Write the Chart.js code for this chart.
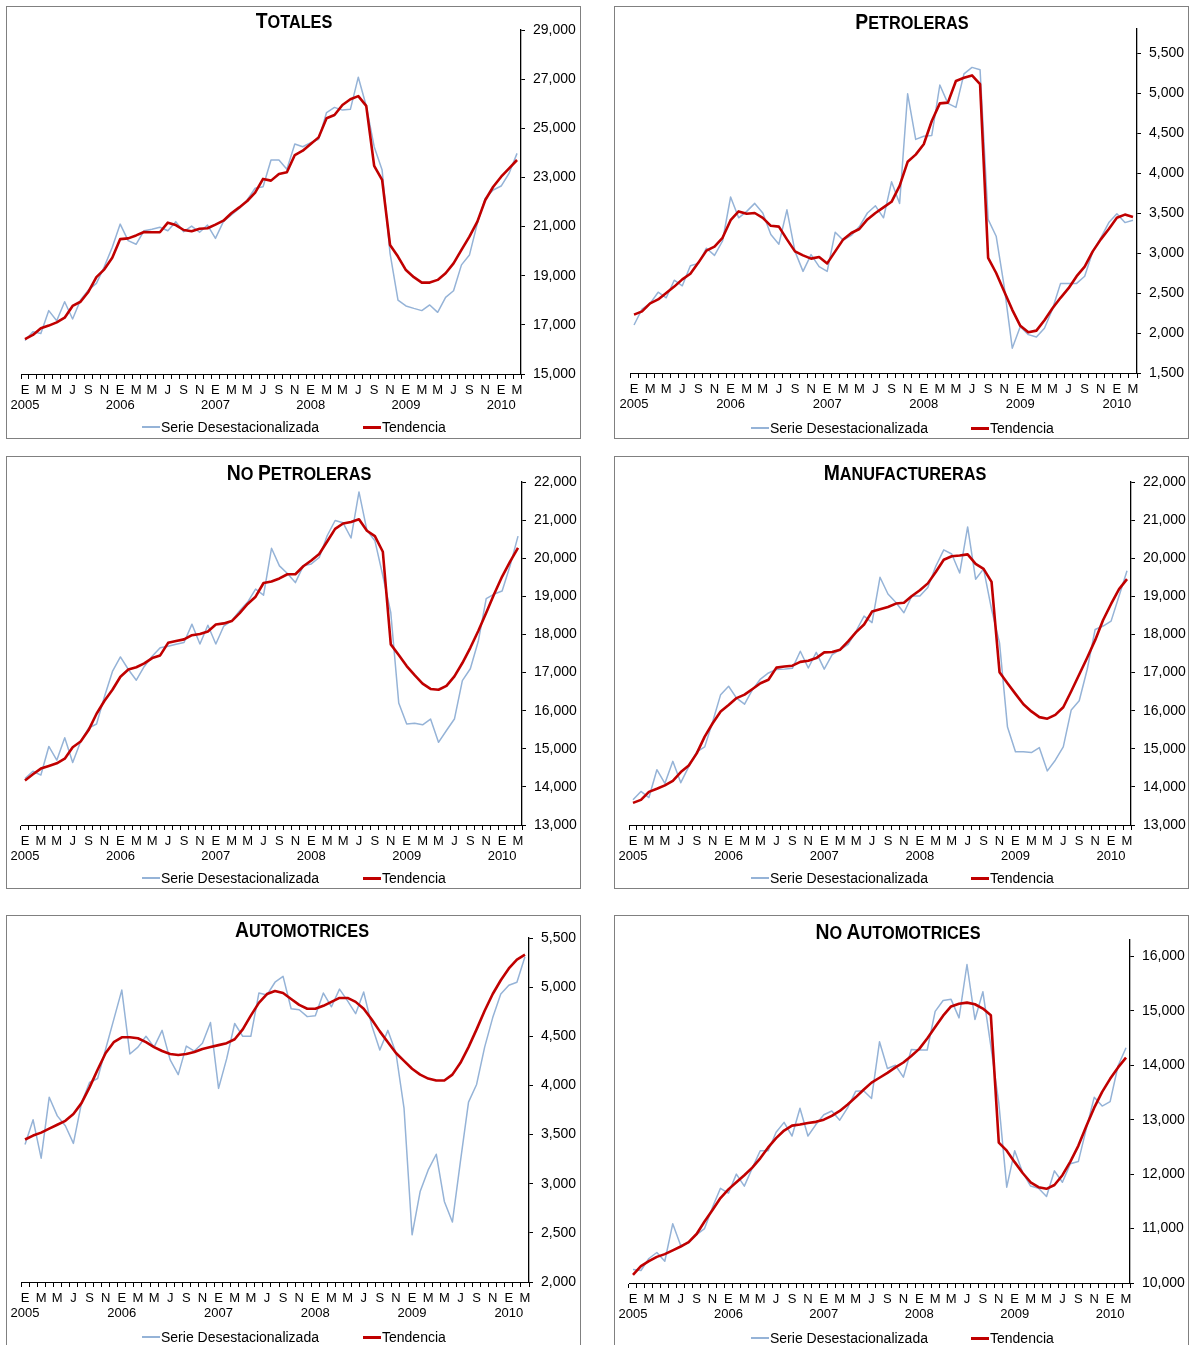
<!DOCTYPE html>
<html lang="es">
<head>
<meta charset="UTF-8">
<title>Exportaciones: serie desestacionalizada y tendencia</title>
<script src="https://cdn.jsdelivr.net/npm/chart.js@4.4.0/dist/chart.umd.min.js"></script>
<style>
  body { margin:0; background:#fff; width:1189px; height:1345px; position:relative; overflow:hidden; font-family:"Liberation Sans", Arial, sans-serif; color:#000; }
  .frame { position:absolute; border:1px solid #808080; box-sizing:border-box; }
  canvas { position:absolute; }
  .titulo { position:absolute; font-weight:bold; font-size:18.5px; line-height:22px; white-space:nowrap; transform-origin:50% 50%; }
  .titulo .cap { font-size:22px; }
  .ley { position:absolute; font-size:14px; line-height:16px; white-space:nowrap; }
  .sw { position:absolute; width:18px; }
</style>
</head>
<body>

<script>
// categorias: enero 2005 - marzo 2010 (63 meses)
const mesesLetra = ['E','F','M','A','M','J','J','A','S','O','N','D'];
const anios = [2005, 2006, 2007, 2008, 2009, 2010];
const numMeses = 63;

// ----- Totales -----
const totalesSerie = [16360,16720,16650,17580,17170,17940,17240,18010,18420,18690,19370,20160,
  21100,20430,20280,20830,20890,20970,20830,21200,20790,21020,20770,21060,
  20520,21200,21470,21740,22080,22560,22620,23710,23710,23330,24360,24250,
  24410,24550,25640,25850,25740,25770,27080,25910,24250,23300,19910,18010,
  17770,17670,17580,17810,17510,18120,18390,19440,19840,21130,22150,22490,
  22650,23170,23980];
const totalesTendencia = [16420,16590,16860,16970,17100,17290,17770,17940,18350,18940,19260,19730,
  20490,20520,20640,20780,20770,20770,21160,21060,20860,20810,20910,20930,
  21080,21240,21540,21780,22040,22380,22940,22870,23140,23210,23910,24090,
  24360,24630,25410,25540,25950,26180,26310,25910,23470,22900,20250,19780,
  19230,18940,18720,18720,18830,19100,19500,20050,20590,21200,22080,22620,
  23030,23370,23710];

// ----- Petroleras -----
const petrolerasSerie = [2100,2300,2370,2510,2440,2660,2590,2840,2870,3060,2970,3150,
  3700,3440,3520,3620,3500,3230,3110,3540,3020,2770,2980,2830,
  2770,3260,3160,3220,3330,3500,3590,3440,3890,3620,4990,4420,
  4460,4470,5100,4870,4820,5240,5320,5290,3420,3210,2580,1810,
  2080,1980,1950,2060,2300,2620,2620,2620,2710,3020,3190,3380,
  3490,3380,3410];
const petrolerasTendencia = [2230,2270,2370,2420,2500,2580,2670,2740,2880,3030,3080,3190,
  3410,3520,3490,3500,3440,3340,3330,3170,3020,2970,2930,2950,
  2870,3020,3170,3250,3300,3420,3500,3570,3640,3840,4140,4230,
  4360,4650,4870,4880,5150,5190,5220,5110,2940,2750,2520,2290,
  2090,2010,2030,2160,2310,2440,2560,2710,2830,3020,3170,3300,
  3440,3480,3450];

// ----- No petroleras -----
const noPetrolerasSerie = [14220,14410,14310,15060,14700,15290,14640,15190,15540,15650,16370,17030,
  17410,17080,16800,17160,17430,17650,17690,17740,17790,18270,17750,18240,
  17750,18220,18360,18620,18850,19190,19030,20260,19800,19600,19360,19800,
  19850,20020,20590,20990,20930,20530,21740,20730,20460,19540,18570,16200,
  15650,15670,15630,15780,15170,15480,15780,16790,17100,17820,18940,19060,
  19140,19800,20580];
const noPetrolerasTendencia = [14170,14330,14480,14550,14620,14740,15040,15190,15490,15920,16260,16550,
  16890,17080,17140,17240,17380,17450,17780,17830,17870,17980,18010,18080,
  18260,18290,18350,18560,18800,18990,19350,19390,19470,19580,19580,19790,
  19940,20110,20440,20770,20910,20950,21020,20720,20580,20170,17740,17460,
  17170,16930,16710,16570,16550,16650,16900,17250,17650,18090,18570,19060,
  19520,19910,20270];

// ----- Manufactureras -----
const manufacturerasSerie = [13660,13880,13720,14450,14090,14670,14110,14530,14920,15050,15710,16420,
  16640,16330,16170,16550,16830,16990,17080,17090,17110,17560,17120,17530,
  17090,17470,17600,17740,18090,18480,18310,19500,19060,18840,18570,19010,
  19010,19230,19790,20220,20110,19610,20820,19450,19720,18660,17780,15570,
  14920,14920,14900,15030,14420,14700,15050,16020,16260,17080,18130,18220,
  18350,19010,19670];
const manufacturerasTendencia = [13580,13660,13870,13950,14040,14160,14390,14560,14880,15320,15670,15980,
  16150,16330,16420,16570,16720,16810,17130,17160,17180,17280,17310,17380,
  17530,17540,17600,17820,18060,18260,18600,18660,18720,18810,18830,19010,
  19160,19340,19640,19960,20050,20070,20100,19850,19720,19380,17010,16720,
  16440,16170,15980,15830,15790,15890,16090,16510,16950,17390,17850,18380,
  18800,19190,19450];

// ----- Automotrices -----
const automotricesSerie = [3400,3650,3260,3880,3690,3590,3410,3820,4030,4070,4370,4670,
  4970,4320,4390,4500,4390,4560,4260,4110,4400,4350,4430,4640,
  3970,4270,4630,4500,4500,4940,4920,5050,5110,4780,4770,4700,
  4710,4940,4800,4980,4860,4730,4950,4610,4360,4560,4330,3770,
  2480,2920,3140,3300,2820,2610,3230,3830,4010,4390,4690,4930,
  5020,5050,5310];
const automotricesTendencia = [3450,3490,3520,3560,3600,3640,3710,3820,3980,4160,4330,4440,
  4490,4490,4480,4440,4390,4350,4320,4310,4320,4340,4370,4390,
  4410,4430,4470,4570,4710,4840,4930,4960,4940,4880,4820,4780,
  4780,4810,4850,4890,4890,4850,4780,4670,4550,4440,4330,4250,
  4170,4110,4070,4050,4050,4110,4230,4390,4570,4760,4930,5070,
  5190,5280,5330];

// ----- No automotrices -----
const noAutomotricesSerie = [10250,10230,10450,10560,10400,11090,10690,10740,10890,11000,11390,11740,
  11650,12000,11780,12110,12430,12430,12770,12950,12700,13210,12700,12910,
  13090,13160,12990,13220,13520,13530,13390,14430,13940,14000,13780,14290,
  14280,14280,14990,15190,15210,14870,15850,14840,15350,14350,13310,11760,
  12430,12030,11780,11740,11590,12060,11850,12190,12230,12830,13410,13250,
  13330,13990,14320];
const noAutomotricesTendencia = [10150,10310,10400,10480,10530,10600,10670,10750,10900,11130,11340,11560,
  11720,11850,11980,12120,12290,12490,12660,12800,12890,12910,12940,12960,
  13000,13070,13160,13280,13410,13550,13680,13770,13860,13960,14050,14170,
  14300,14490,14700,14910,15080,15130,15150,15120,15040,14920,12580,12430,
  12220,12020,11850,11760,11730,11800,11980,12230,12520,12880,13220,13510,
  13750,13960,14140];

const etiquetasLeyenda = ['Serie Desestacionalizada', 'Tendencia'];

const periodos = [];
for (let i = 0; i < numMeses; i++) {
  periodos.push(anios[Math.floor(i / 12)] + '-' + String(i % 12 + 1).padStart(2, '0'));
}

const colorSerie = '#95b3d7';
const colorTendencia = '#c00000';
const anchoEjeY = 66, altoEjeX = 40;

// box = marco [x0,y0,x1,y1], plot = area de trazado [izq,arriba,der,abajo], ley = [x azul, y, x rojo]
const paneles = [
  { titulo:'Totales', serie:totalesSerie, tendencia:totalesTendencia, yMin:15000, yMax:29000, yPaso:2000,
    box:[6,6,581,439], plot:[21,30,521,374], tx:294, ty:29, esc:0.88, ley:[142,427,363] },
  { titulo:'Petroleras', serie:petrolerasSerie, tendencia:petrolerasTendencia, yMin:1500, yMax:5800, yPaso:500,
    box:[614,6,1189,439], plot:[630,29,1137,373], tx:912, ty:30, esc:0.88, ley:[751,428,971] },
  { titulo:'No Petroleras', serie:noPetrolerasSerie, tendencia:noPetrolerasTendencia, yMin:13000, yMax:22000, yPaso:1000,
    box:[6,456,581,889], plot:[21,482,522,825], tx:299, ty:481, esc:0.88, ley:[142,878,363] },
  { titulo:'Manufactureras', serie:manufacturerasSerie, tendencia:manufacturerasTendencia, yMin:13000, yMax:22000, yPaso:1000,
    box:[614,456,1189,889], plot:[629,482,1131,825], tx:905, ty:481, esc:0.88, ley:[751,878,971] },
  { titulo:'Automotrices', serie:automotricesSerie, tendencia:automotricesTendencia, yMin:2000, yMax:5500, yPaso:500,
    box:[6,915,581,1346], plot:[21,938,529,1282], tx:302, ty:938, esc:0.88, ley:[142,1337,363] },
  { titulo:'No Automotrices', serie:noAutomotricesSerie, tendencia:noAutomotricesTendencia, yMin:10000, yMax:16300, yPaso:1000,
    box:[614,915,1189,1346], plot:[629,940,1130,1283], tx:898, ty:940, esc:0.88, ley:[751,1338,971] }
];

function etiquetaMes(value, index) {
  if (index % 2 === 1) return '';
  const letra = mesesLetra[index % 12];
  if (index % 12 === 0) return [letra, String(anios[index / 12])];
  return letra;
}

function crearPanel(p, n) {
  const [x0, y0, x1, y1] = p.box;
  const [l, t, r, b] = p.plot;

  const marco = document.createElement('div');
  marco.className = 'frame';
  Object.assign(marco.style, { left: x0 + 'px', top: y0 + 'px', width: (x1 - x0) + 'px', height: (y1 - y0) + 'px' });
  document.body.appendChild(marco);

  // el lienzo llega un poco mas alla del marco para que quepan las etiquetas del eje
  const cv = document.createElement('canvas');
  cv.id = 'grafico' + n;
  cv.width = r + anchoEjeY + 2 - x0; cv.height = y1 - y0;
  Object.assign(cv.style, { left: x0 + 'px', top: y0 + 'px' });
  document.body.appendChild(cv);

  // titulo en versalitas
  const tit = document.createElement('div');
  tit.className = 'titulo';
  tit.innerHTML = p.titulo.split(' ').map(w =>
    '<span class="cap">' + w[0].toUpperCase() + '</span>' + w.slice(1).toUpperCase()).join(' ');
  tit.style.top = (p.ty - 18.6) + 'px';
  tit.style.left = p.tx + 'px';
  tit.style.transform = 'translateX(-50%) scaleX(' + p.esc + ')';
  document.body.appendChild(tit);

  // leyenda
  const [lx, ly, rx] = p.ley;
  [[lx, colorSerie, 2, etiquetasLeyenda[0]], [rx, colorTendencia, 3, etiquetasLeyenda[1]]].forEach(([x, col, g, txt]) => {
    const sw = document.createElement('div');
    sw.className = 'sw';
    Object.assign(sw.style, { left: x + 'px', top: (ly - g / 2) + 'px', height: g + 'px', background: col });
    document.body.appendChild(sw);
    const tx = document.createElement('div');
    tx.className = 'ley';
    tx.textContent = txt;
    Object.assign(tx.style, { left: (x + 19) + 'px', top: (ly - 8) + 'px' });
    document.body.appendChild(tx);
  });

  new Chart(cv, {
    type: 'line',
    data: {
      labels: periodos,
      datasets: [
        { label: etiquetasLeyenda[0], data: p.serie, borderColor: colorSerie, borderWidth: 1.5, order: 2 },
        { label: etiquetasLeyenda[1], data: p.tendencia, borderColor: colorTendencia, borderWidth: 2.6, order: 1 }
      ]
    },
    options: {
      responsive: false,
      animation: false,
      layout: { padding: { left: l - x0, top: t - y0, right: 2, bottom: (y1 - b) - altoEjeX } },
      elements: { point: { radius: 0 }, line: { tension: 0, borderJoinStyle: 'round' } },
      plugins: { legend: { display: false }, tooltip: { enabled: false } },
      scales: {
        x: {
          offset: true,
          grid: { offset: true, drawOnChartArea: false, tickLength: 5, color: '#000', lineWidth: 1 },
          border: { color: '#000', width: 1 },
          ticks: { autoSkip: false, maxRotation: 0, minRotation: 0, padding: 3.5, color: '#000',
                   font: { size: 13, lineHeight: 1.15 }, callback: etiquetaMes },
          afterFit: s => { s.height = altoEjeX; }
        },
        y: {
          position: 'right',
          min: p.yMin, max: p.yMax,
          grid: { drawOnChartArea: false, tickLength: 4, color: '#000', lineWidth: 1 },
          border: { color: '#000', width: 1.3 },
          ticks: { stepSize: p.yPaso, padding: 8, color: '#000', font: { size: 14 },
                   callback: v => v.toLocaleString('en-US') },
          afterBuildTicks: s => {
            const marcas = [];
            for (let v = p.yMin; v <= p.yMax; v += p.yPaso) marcas.push({ value: v });
            s.ticks = marcas;
          },
          afterFit: s => { s.width = anchoEjeY; }
        }
      }
    }
  });
}

paneles.forEach(crearPanel);
</script>
</body>
</html>
